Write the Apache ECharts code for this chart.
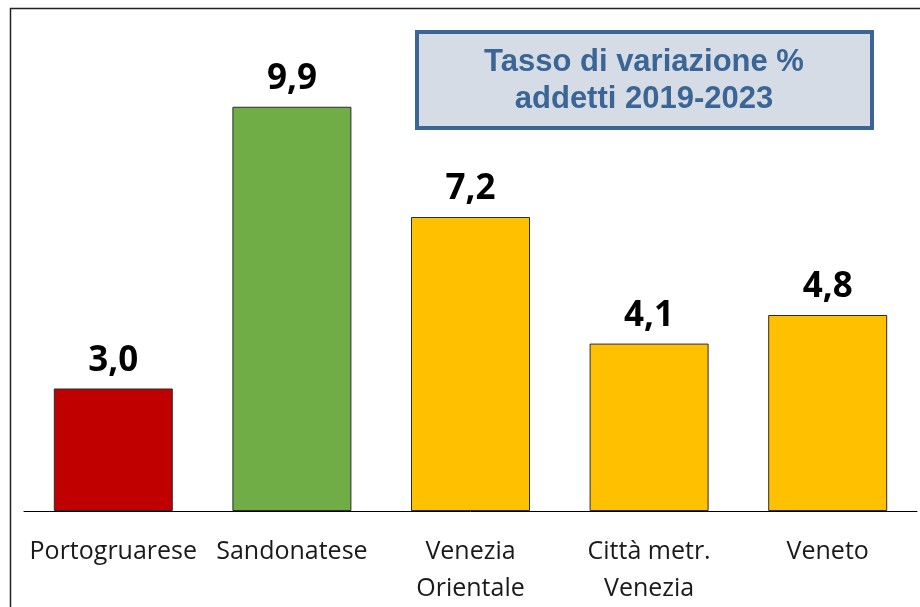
<!DOCTYPE html>
<html>
<head>
<meta charset="utf-8">
<script src="https://cdn.jsdelivr.net/npm/echarts@6/dist/echarts.min.js"></script>
<style>
  html, body { margin: 0; padding: 0; background: #fff; }
  #chart { width: 920px; height: 607px; }
</style>
</head>
<body>
<div id="chart"></div>
<script>
  const categories = ['Portogruarese', 'Sandonatese', 'Venezia\nOrientale', 'Città metr.\nVenezia', 'Veneto'];
  const values = [3.0, 9.9, 7.2, 4.1, 4.8];
  const barColors = ['#c00000', '#70ad47', '#ffc000', '#ffc000', '#ffc000'];
  const titleLines = ['Tasso di variazione %', 'addetti 2019-2023'];

  let chart = echarts.init(document.getElementById('chart'));
  let option = {
    backgroundColor: '#fff',
    animation: false,
    grid: {
      left: 24,
      right: 3,
      top: 21,
      bottom: 96,
      containLabel: false
    },
    xAxis: {
      type: 'category',
      data: categories,
      axisLine: { lineStyle: { color: '#000', width: 1 } },
      axisTick: { show: false },
      axisLabel: {
        color: '#1a1a1a',
        fontFamily: 'Open Sans',
        fontSize: 25,
        lineHeight: 37,
        margin: 22,
        interval: 0
      }
    },
    yAxis: {
      type: 'value',
      min: 0,
      max: 12,
      show: false,
      splitLine: { show: false }
    },
    series: [
      {
        type: 'bar',
        barWidth: 119,
        data: values.map((v, i) => ({
          value: v,
          itemStyle: { color: barColors[i] }
        })),
        itemStyle: {
          borderColor: '#2b2b2b',
          borderWidth: 1
        },
        label: {
          show: true,
          position: 'top',
          distance: 10,
          color: '#000',
          fontFamily: 'Open Sans',
          fontWeight: 'bold',
          fontSize: 35,
          formatter: p => p.value.toFixed(1).replace('.', ',')
        }
      }
    ],
    graphic: [
      {
        type: 'rect',
        shape: { x: 10.5, y: 8.5, width: 920, height: 610 },
        style: { fill: 'none', stroke: '#222', lineWidth: 1.5 },
        silent: true
      },
      {
        type: 'rect',
        shape: { x: 417, y: 32, width: 455, height: 96 },
        style: { fill: '#d6dce5', stroke: '#3a6595', lineWidth: 4 },
        silent: true
      },
      {
        type: 'text',
        x: 644,
        y: 81,
        style: {
          text: titleLines.join('\n'),
          fill: '#3a6595',
          font: 'bold 31px "Liberation Sans", Arial, sans-serif',
          align: 'center',
          verticalAlign: 'middle',
          lineHeight: 37
        },
        silent: true
      }
    ]
  };
  chart.setOption(option);
</script>
</body>
</html>
